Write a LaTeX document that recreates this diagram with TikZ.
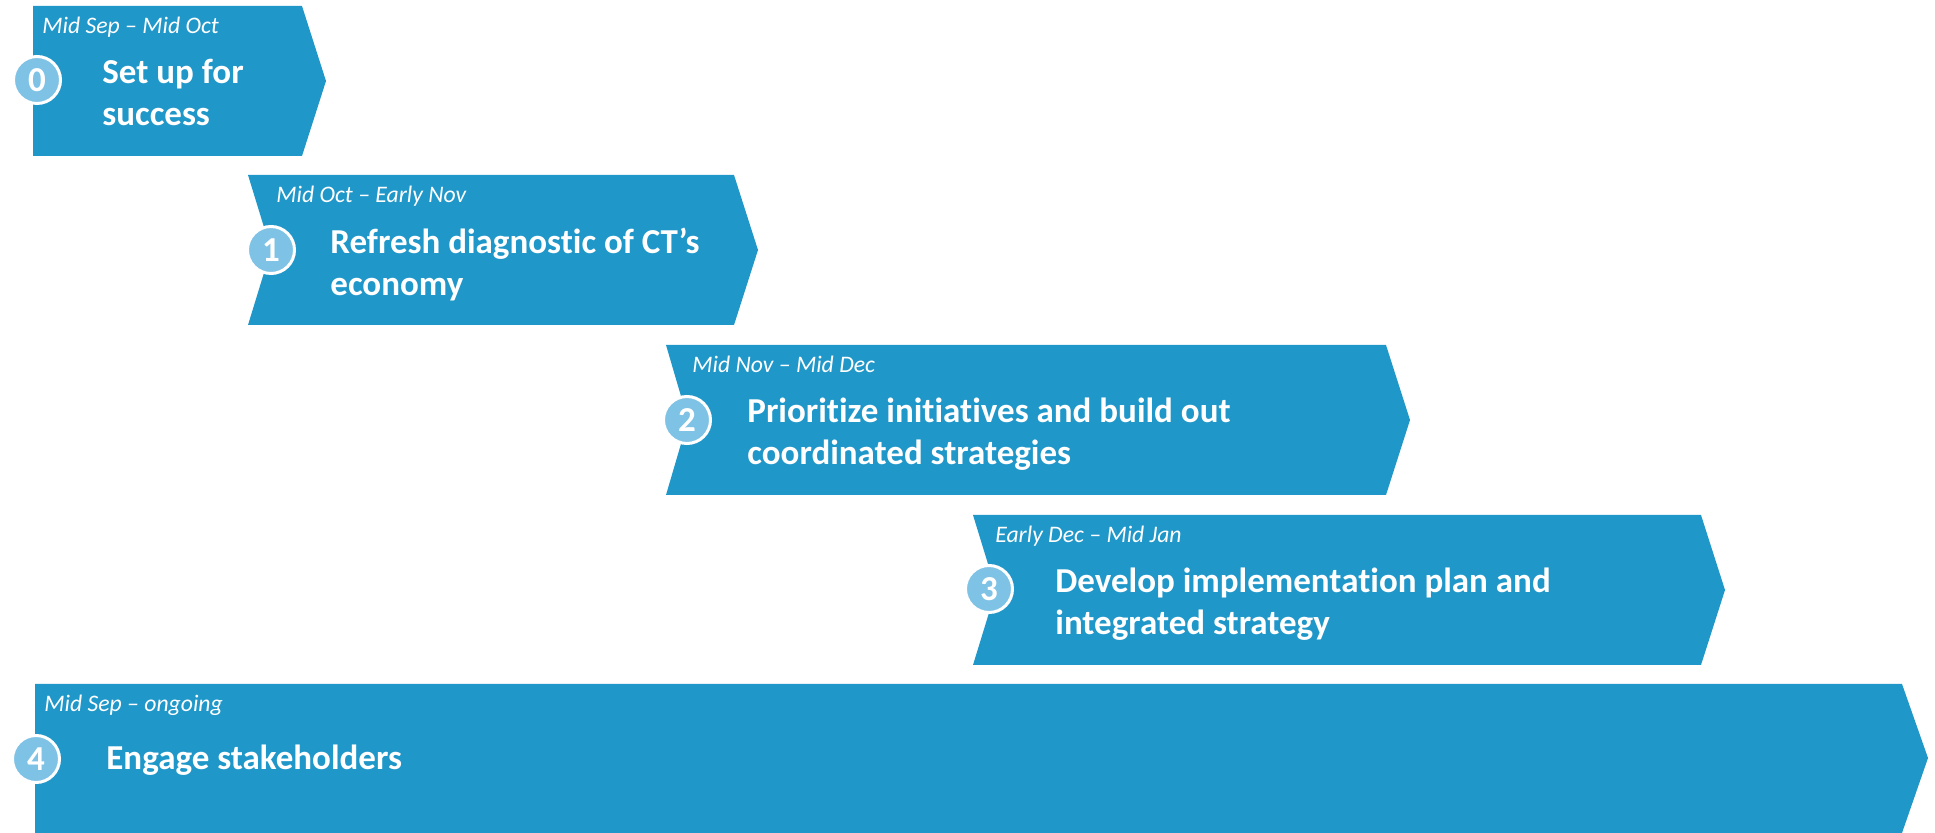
\documentclass[tikz,border=0pt]{standalone}
\usepackage{fontspec}
\setmainfont{Carlito}[Ligatures={TeX,NoCommon}]
\usepackage{tikz}
\usepackage{xcolor}
\usetikzlibrary{positioning}

\definecolor{phaseblue}{RGB}{32,151,201}
\definecolor{badgeblue}{RGB}{126,194,229}

\begin{document}
\begin{tikzpicture}[
    x=0.5pt, y=-0.5pt,
    phase/.style={fill=phaseblue},
    badge/.style={circle, fill=badgeblue, draw=white, line width=1.5pt, minimum size=23.5pt, inner sep=0pt, text=white, font=\fontsize{17.5}{21}\selectfont\bfseries},
    period/.style={anchor=base west, inner sep=0pt, text=white, font=\fontsize{11.85}{14}\selectfont\itshape},
    title/.style={anchor=base west, inner sep=0pt, text=white, align=left, font=\fontsize{17.5}{21}\selectfont\bfseries}
]

% Canvas
\useasboundingbox (0,0) rectangle (1935,833);

% Phases
\fill [phase] (33,6) -- (302,6) -- (326,81) -- (302,156) -- (33,156) -- cycle;
\fill [phase] (248,175) -- (734,175) -- (758,250) -- (734,325) -- (248,325) -- (271,250) -- cycle;
\fill [phase] (666,345) -- (1386,345) -- (1410,420) -- (1386,495) -- (666,495) -- (688,420) -- cycle;
\fill [phase] (973,515) -- (1701,515) -- (1725,590) -- (1701,665) -- (973,665) -- (996,590) -- cycle;
\fill [phase] (35,684) -- (1902,684) -- (1928,758) -- (1902,833) -- (35,833) -- cycle;

% Step numbers
\node (badge0) [badge] at (37,80) {0};
\node (badge1) [badge] at (271,250) {1};
\node (badge2) [badge] at (687,420) {2};
\node (badge3) [badge] at (989,589) {3};
\node (badge4) [badge] at (36,759) {4};

% Time frames
\node (period0) [period] at (42,34) {Mid Sep – Mid Oct};
\node (period1) [period] at (276,203) {Mid Oct – Early Nov};
\node (period2) [period] at (692,373) {Mid Nov – Mid Dec};
\node (period3) [period] at (995,543) {Early Dec – Mid Jan};
\node (period4) [period] at (44,712) {Mid Sep – ongoing};

% Titles (base is the last line)
\node (title0) [title] at (102,126) {Set up for\\success};
\node (title1) [title] at (330,296) {Refresh diagnostic of CT’s\\economy};
\node (title2) [title] at (747,465) {Prioritize initiatives and build out\\coordinated strategies};
\node (title3) [title] at (1055,635) {Develop implementation plan and\\integrated strategy};
\node (title4) [title] at (106,770) {Engage stakeholders};

\end{tikzpicture}
\end{document}
